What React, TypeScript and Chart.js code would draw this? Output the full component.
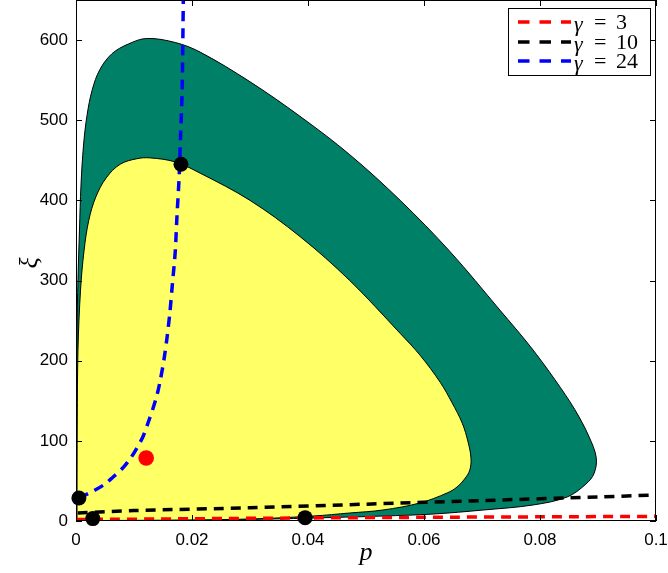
import React, { useEffect, useRef } from "react";
import { Chart, registerables } from "chart.js";

Chart.register(...registerables);

// ---- axes ----
const xTicks = [0, 0.02, 0.04, 0.06, 0.08, 0.1];
const xTickLabels = ["0", "0.02", "0.04", "0.06", "0.08", "0.1"];
const yTicks = [0, 100, 200, 300, 400, 500, 600];
const yTickLabels = ["0", "100", "200", "300", "400", "500", "600"];

// ---- outer (green) region boundary ----
const greenP = [0.0001, 0.0001, 0.00017, 0.00034, 0.0006, 0.00086, 0.0013, 0.0019, 0.0028, 0.0041, 0.0062, 0.009, 0.0122, 0.0171, 0.0214, 0.03, 0.0386, 0.0472, 0.0559, 0.0645, 0.0731, 0.0783, 0.0826, 0.086, 0.0884, 0.0897, 0.0893, 0.0879, 0.0847, 0.0788, 0.0702, 0.0616, 0.0529, 0.0443, 0.0352, 0.0214, 0.0076, 0.0001];
const greenXi = [0, 126, 238, 301, 363, 419, 469, 506, 538, 563, 583, 595, 602, 597, 585, 548, 505, 457, 400, 336, 263, 218, 176, 139, 106, 79, 59, 46, 30, 20, 13.7, 8.7, 6.2, 4.4, 2.7, 1, 0.25, 0];

// ---- inner (yellow) region boundary ----
const yellowP = [0.00017, 0.00022, 0.00034, 0.00078, 0.0014, 0.0022, 0.0034, 0.0052, 0.0076, 0.0105, 0.0128, 0.0171, 0.0214, 0.03, 0.0386, 0.0472, 0.0559, 0.0593, 0.0628, 0.0648, 0.0666, 0.0676, 0.0681, 0.0679, 0.067, 0.0657, 0.064, 0.0593, 0.0529, 0.0472, 0.0409, 0.03, 0.0179, 0.0041, 0.00034, 0.00017];
const yellowXi = [6.2, 126, 213, 288, 338, 375, 404, 428, 445, 452, 453, 448, 434, 400, 355, 300, 234, 207, 173, 148, 122, 98.5, 78.6, 63.6, 52.4, 42.4, 35, 22.5, 13.7, 10, 6.2, 2.5, 1.2, 0.6, 0.6, 6.2];

// ---- dashed curves ----
const gamma3P = [0, 0.02, 0.04, 0.06, 0.08, 0.1];
const gamma3Xi = [1.8, 2.8, 3.8, 4.6, 5.2, 5.8];
const gamma10P = [0.0003, 0.01, 0.03, 0.05, 0.07, 0.09, 0.1];
const gamma10Xi = [10, 13, 16.5, 21, 25.5, 30, 32.5];
const gamma24P = [0.00052, 0.0033, 0.005, 0.0064, 0.0079, 0.0093, 0.0105, 0.0116, 0.0124, 0.0133, 0.014, 0.0146, 0.0152, 0.0157, 0.0162, 0.0166, 0.0171, 0.0174, 0.0178, 0.018, 0.0183, 0.0185];
const gamma24Xi = [28.7, 38.7, 46.2, 54.9, 64.8, 77.3, 91, 106, 122, 141, 158, 178, 203, 229, 261, 294, 335, 379, 432, 475, 537, 650];

// ---- markers ----
const blackDotP = [0.0005, 0.0029, 0.0395, 0.0181];
const blackDotXi = [28.7, 3, 4.2, 445];
const redDotP = [0.0121];
const redDotXi = [78.6];

const legendLabels = ["3", "10", "24"];
const legendColors = ["#ff0000", "#000000", "#0000ff"];

const pts = (xs: number[], ys: number[]) => xs.map((x, i) => ({ x, y: ys[i] }));

const SERIF = '"Liberation Serif", "DejaVu Serif", serif';
const SANS = '"Liberation Sans", Arial, sans-serif';

const decorPlugin = {
  id: "decor",
  afterDatasetsDraw(chart: any) {
    const { ctx, chartArea: a, scales } = chart;
    const xs = scales.x;
    const ys = scales.y;
    ctx.save();
    ctx.strokeStyle = "#000";
    ctx.lineWidth = 1;
    ctx.setLineDash([]);
    ctx.beginPath();
    const tl = 6;
    for (const v of xTicks) {
      const px = Math.round(xs.getPixelForValue(v)) + 0.5;
      ctx.moveTo(px, a.bottom);
      ctx.lineTo(px, a.bottom - tl);
      ctx.moveTo(px, a.top);
      ctx.lineTo(px, a.top + tl);
    }
    for (const v of yTicks) {
      const py = Math.round(ys.getPixelForValue(v)) + 0.5;
      ctx.moveTo(a.left, py);
      ctx.lineTo(a.left + tl, py);
      ctx.moveTo(a.right, py);
      ctx.lineTo(a.right - tl, py);
    }
    ctx.stroke();
    ctx.strokeRect(a.left + 0.5, a.top + 0.5, a.right - a.left - 1, a.bottom - a.top - 1);

    // legend
    const bx = 508.5, by = 8.5, bw = 142, bh = 67;
    ctx.fillStyle = "#fff";
    ctx.fillRect(bx, by, bw, bh);
    ctx.strokeRect(bx, by, bw, bh);
    const rows = [22, 42, 61];
    rows.forEach((ry, i) => {
      ctx.save();
      ctx.strokeStyle = legendColors[i];
      ctx.lineWidth = 3.5;
      ctx.setLineDash([11.5, 10]);
      ctx.beginPath();
      ctx.moveTo(518, ry);
      ctx.lineTo(571, ry);
      ctx.stroke();
      ctx.restore();
      ctx.fillStyle = "#000";
      ctx.textBaseline = "middle";
      ctx.textAlign = "left";
      ctx.font = `italic 22px ${SERIF}`;
      ctx.fillText("γ", 574, ry + 3);
      ctx.font = `22px ${SERIF}`;
      ctx.fillText("=", 594, ry + 1);
      ctx.fillText(legendLabels[i], 616, ry + 1);
    });

    // axis titles
    ctx.fillStyle = "#000";
    ctx.textAlign = "center";
    ctx.textBaseline = "middle";
    ctx.font = `italic 26px ${SERIF}`;
    ctx.fillText("p", (a.left + a.right) / 2, 553);
    ctx.save();
    ctx.translate(30, 263);
    ctx.rotate(-Math.PI / 2);
    ctx.fillText("ξ", 0, 0);
    ctx.restore();
    ctx.restore();
  },
};

export default function App() {
  const ref = useRef<HTMLCanvasElement | null>(null);
  useEffect(() => {
    if (!ref.current) return;
    const dash = [10, 7];
    const chart = new Chart(ref.current, {
      type: "line",
      data: {
        datasets: [
          {
            label: "black markers",
            data: pts(blackDotP, blackDotXi),
            showLine: false,
            pointRadius: 7.5,
            pointHoverRadius: 7.5,
            pointBackgroundColor: "#000",
            pointBorderWidth: 0,
            clip: false as any,
            order: 0,
          },
          {
            label: "red marker",
            data: pts(redDotP, redDotXi),
            showLine: false,
            pointRadius: 7.8,
            pointHoverRadius: 7.8,
            pointBackgroundColor: "#ff0000",
            pointBorderWidth: 0,
            clip: false as any,
            order: 0,
          },
          {
            label: "γ = 3",
            data: pts(gamma3P, gamma3Xi),
            borderColor: "#ff0000",
            borderWidth: 3.5,
            borderDash: dash,
            pointRadius: 0,
            fill: false,
            tension: 0.3,
            order: 1,
          },
          {
            label: "γ = 10",
            data: pts(gamma10P, gamma10Xi),
            borderColor: "#000000",
            borderWidth: 3.5,
            borderDash: dash,
            pointRadius: 0,
            fill: false,
            tension: 0.3,
            order: 1,
          },
          {
            label: "γ = 24",
            data: pts(gamma24P, gamma24Xi),
            borderColor: "#0000ff",
            borderWidth: 3.5,
            borderDash: dash,
            pointRadius: 0,
            fill: false,
            tension: 0.3,
            order: 1,
          },
          {
            label: "inner",
            data: pts(yellowP, yellowXi),
            borderColor: "#000",
            borderWidth: 1,
            backgroundColor: "#ffff66",
            pointRadius: 0,
            fill: "shape" as any,
            tension: 0.35,
            order: 2,
          },
          {
            label: "outer",
            data: pts(greenP, greenXi),
            borderColor: "#000",
            borderWidth: 1,
            backgroundColor: "#008066",
            pointRadius: 0,
            fill: "shape" as any,
            tension: 0.35,
            order: 3,
          },
        ],
      },
      options: {
        animation: false,
        responsive: false,
        events: [],
        layout: { autoPadding: false, padding: { left: 0, right: 12, top: 0, bottom: 0 } },
        plugins: {
          legend: { display: false },
          tooltip: { enabled: false },
        },
        scales: {
          x: {
            type: "linear",
            min: 0,
            max: 0.1,
            grid: { display: false, drawTicks: false },
            border: { display: false },
            afterBuildTicks: (s: any) => {
              s.ticks = xTicks.map((v) => ({ value: v }));
            },
            afterFit: (s: any) => {
              s.height = 52;
              s.paddingLeft = 0;
              s.paddingRight = 0;
            },
            ticks: {
              padding: 9,
              maxRotation: 0,
              autoSkip: false,
              color: "#000",
              font: { family: SANS, size: 17 },
              callback: (v: any) => {
                const i = xTicks.indexOf(v);
                return i >= 0 ? xTickLabels[i] : "";
              },
            },
          },
          y: {
            type: "linear",
            min: 0,
            max: 650,
            grid: { display: false, drawTicks: false },
            border: { display: false },
            afterBuildTicks: (s: any) => {
              s.ticks = yTicks.map((v) => ({ value: v }));
            },
            afterFit: (s: any) => {
              s.width = 76;
              s.paddingTop = 0;
              s.paddingBottom = 0;
            },
            ticks: {
              padding: 8,
              autoSkip: false,
              color: "#000",
              font: { family: SANS, size: 17 },
              callback: (v: any) => {
                const i = yTicks.indexOf(v);
                return i >= 0 ? yTickLabels[i] : "";
              },
            },
          },
        },
      },
      plugins: [decorPlugin],
    });
    return () => chart.destroy();
  }, []);
  return (
    <div style={{ position: "absolute", left: 0, top: 0, width: 668, height: 573, background: "#fff" }}>
      <canvas ref={ref} width={668} height={573} style={{ display: "block" }} />
    </div>
  );
}
